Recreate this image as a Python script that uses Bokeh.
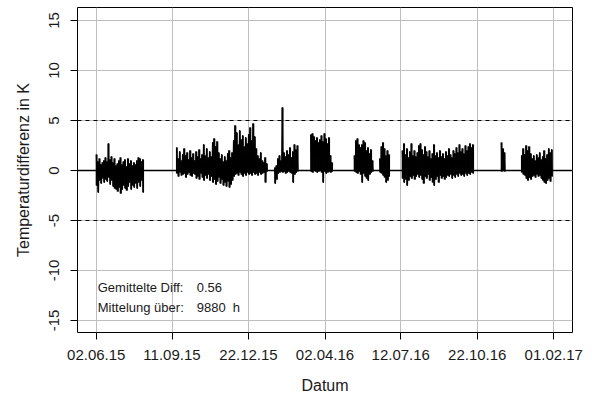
import pandas as pd
from bokeh.plotting import figure
from bokeh.models import Range1d, FixedTicker, Span, Label
from bokeh.embed import file_html
from bokeh.resources import INLINE

# ---- data (hourly record, shown as 2-day high/low envelope) ----
step_days = 2

seg1_start = "2015-06-02"
seg1_hi = [1.6, 0.9, 1.2, 0.6, 0.8, 1.0, 1.3, 0.9, 2.7, 1.1, 1.4, 0.8, 1.2, 0.5, 0.7, 1.0,
           1.3, 0.6, 0.9, 1.1, 0.4, 1.2, 0.7, 1.0, 0.5, 0.8, 0.6, 1.0, 1.3, 1.2, 0.9, 1.1]
seg1_lo = [-1.5, -2.2, -1.0, -1.3, -0.8, -1.2, -0.9, -1.1, -0.7, -1.4, -1.0, -1.6, -1.8, -1.9, -2.1, -1.7,
           -2.3, -1.9, -1.5, -1.8, -2.0, -1.6, -1.2, -1.9, -1.5, -1.7, -1.3, -1.8, -1.2, -1.6, -1.0, -2.2]

seg2_start = "2015-09-17"
seg2_hi = [2.3, 1.2, 1.9, 1.0, 1.6, 2.2, 1.5, 1.8, 1.1, 2.0, 1.3, 1.7, 1.0, 1.9, 1.4, 2.1,
           1.2, 1.6, 2.6, 1.5, 2.2, 1.3, 1.9, 1.4, 2.8, 3.2, 2.4, 2.9, 1.8, 1.2, 1.6, 0.9,
           1.4, 1.0, 1.7, 2.0, 1.3, 1.8, 3.0, 4.5, 3.8, 2.6, 4.0, 3.1, 3.5, 2.4, 3.3, 2.7,
           3.6, 4.3, 3.0, 4.7, 3.4, 2.2, 1.5, 1.2, 1.8, 1.0, 0.8, 1.3, 0.7]
seg2_lo = [-0.3, -0.6, -0.2, -0.5, -0.4, -0.3, -0.7, -0.4, -0.2, -0.5, -0.6, -0.3, -0.4, -0.8, -0.6, -0.9,
           -0.3, -0.7, -1.0, -0.5, -0.8, -0.4, -1.0, -0.6, -1.2, -0.9, -1.4, -1.1, -0.7, -1.3, -0.9, -1.5,
           -1.2, -1.6, -1.1, -1.7, -1.4, -1.0, -0.6, -0.4, -0.3, -0.5, -0.2, -0.4, -0.6, -0.3, -0.5, -0.2,
           -0.4, -0.3, -0.5, -0.2, -0.4, -0.3, -0.5, -0.2, -0.4, -0.3, -0.2, -1.2, -0.1]

seg3_start = "2016-01-26"
seg3_hi = [0.3, 0.5, 1.2, 1.5, 1.0, 6.3, 1.8, 1.4, 2.0, 1.6, 2.3, 1.3, 1.9, 2.6, 2.1, 2.5]
seg3_lo = [-1.3, -0.9, -0.3, -0.2, -0.1, -0.2, -0.1, -0.3, -0.2, -0.1, -0.2, -0.3, -1.2, -0.4, -0.2, -0.1]

seg4_start = "2016-03-14"
seg4_hi = [3.6, 3.7, 3.4, 3.0, 3.3, 2.8, 3.1, 3.5, 2.9, 3.7, 3.2, 2.7, 3.3, 1.5, 0.8]
seg4_lo = [-0.1, -0.2, 0.0, -0.1, -0.2, -0.1, 0.0, -0.2, -1.2, -0.1, -0.3, -0.2, -0.1, -0.2, -0.1]

seg5_start = "2016-05-11"
seg5_hi = [1.5, 3.0, 3.2, 2.6, 2.3, 2.6, 3.0, 2.8, 2.0, 2.3, 1.7, 2.1, 1.0]
seg5_lo = [-0.1, -0.2, -0.3, -0.1, -0.4, -1.2, -0.3, -0.6, -0.8, -1.0, -0.4, -0.2, -0.1]

seg6_start = "2016-06-14"
seg6_hi = [1.2, 2.4, 2.8, 2.2, 1.5, 2.0, 1.6]
seg6_lo = [-0.2, -0.3, -0.5, -0.7, -1.2, -1.0, -0.6]

seg7_start = "2016-07-14"
seg7_hi = [2.0, 2.7, 1.6, 2.2, 1.3, 1.9, 2.7, 1.5, 2.0, 1.4, 1.8, 2.5, 2.7, 2.1, 1.6, 2.4,
           1.9, 1.4, 2.0, 1.2, 1.7, 2.6, 1.5, 1.8, 1.3, 2.0, 1.4, 1.7, 1.2, 1.9, 1.5, 2.2,
           1.6, 1.3, 2.0, 1.7, 2.3, 1.8, 2.6, 1.9, 2.2, 1.7, 2.5, 2.0, 2.4, 2.7, 2.3, 2.6]
seg7_lo = [-0.8, -1.2, -0.9, -1.5, -1.0, -0.6, -0.8, -0.5, -0.9, -0.6, -0.4, -0.7, -0.5, -0.9, -1.3, -0.6,
           -0.8, -0.4, -1.0, -0.7, -1.2, -1.5, -0.9, -0.6, -1.2, -0.5, -0.8, -0.6, -0.9, -0.7, -0.5, -0.6,
           -0.4, -0.8, -0.5, -0.7, -0.4, -0.6, -0.3, -0.5, -0.4, -0.6, -0.3, -0.5, -0.3, -0.4, -0.2, -0.3]

seg8_start = "2016-11-23"
seg8_hi = [2.8, 2.2, 1.8]
seg8_lo = [-0.1, 0.0, -0.1]

seg9_start = "2016-12-20"
seg9_hi = [1.5, 2.2, 1.6, 2.5, 2.0, 2.4, 1.7, 1.2, 1.5, 1.0, 1.6, 1.3, 1.8, 1.1, 1.4, 2.0,
           1.2, 1.6, 2.2, 1.8, 2.1]
seg9_lo = [-0.2, -0.4, -0.5, -0.8, -1.0, -0.7, -0.9, -0.6, -0.5, -0.7, -0.4, -0.6, -0.5, -0.8, -1.0, -1.2,
           -1.3, -1.0, -0.8, -1.1, -0.6]

x_tick_dates = ["2015-06-02", "2015-09-11", "2015-12-22", "2016-04-02",
                "2016-07-12", "2016-10-22", "2017-02-01"]
x_tick_labels = ["02.06.15", "11.09.15", "22.12.15", "02.04.16",
                 "12.07.16", "22.10.16", "01.02.17"]
y_ticks = [-15, -10, -5, 0, 5, 10, 15]
y_tick_labels = ["-15", "-10", "-5", "0", "5", "10", "15"]
ref_levels = [-5, 5]
mean_diff = "0.56"
avg_hours = "9880"

# ---- build ----
DAY = 86400000


def ms(d):
    return int(pd.Timestamp(d).value // 10**6)


segments = [
    (seg1_start, seg1_hi, seg1_lo), (seg2_start, seg2_hi, seg2_lo),
    (seg3_start, seg3_hi, seg3_lo), (seg4_start, seg4_hi, seg4_lo),
    (seg5_start, seg5_hi, seg5_lo), (seg6_start, seg6_hi, seg6_lo),
    (seg7_start, seg7_hi, seg7_lo), (seg8_start, seg8_hi, seg8_lo),
    (seg9_start, seg9_hi, seg9_lo),
]

xs, ys = [], []
bx, btop, bbot = [], [], []
for start, hi, lo in segments:
    s = ms(start)
    x, y = [], []
    for i, (h, l) in enumerate(zip(hi, lo)):
        x += [s + i * step_days * DAY, s + (i * step_days + 1) * DAY]
        y += [h, l]
        bx.append(s + (i * step_days + 0.5) * DAY)
        btop.append(h)
        bbot.append(l)
    xs.append(x)
    ys.append(y)

FONT = "Liberation Sans"
TXT = "#1a1a1a"

p = figure(frame_width=495, frame_height=325,
           min_border_left=77, min_border_right=20, min_border_top=7, min_border_bottom=62,
           output_backend="svg", toolbar_location=None,
           x_range=Range1d(ms("2015-05-08"), ms("2017-02-26")),
           y_range=Range1d(-16.2, 16.3))

p.background_fill_color = "white"
p.border_fill_color = "white"
p.outline_line_color = "black"
p.outline_line_width = 1

tick_ms = [ms(d) for d in x_tick_dates]
p.xaxis.ticker = FixedTicker(ticks=tick_ms)
p.xaxis.major_label_overrides = {t: lab for t, lab in zip(tick_ms, x_tick_labels)}
p.yaxis.ticker = FixedTicker(ticks=y_ticks)
p.yaxis.major_label_overrides = {t: lab for t, lab in zip(y_ticks, y_tick_labels)}
p.yaxis.major_label_orientation = "vertical"

for ax in (p.xaxis, p.yaxis):
    ax.axis_line_color = None
    ax.major_tick_out = 7
    ax.major_tick_in = 0
    ax.minor_tick_line_color = None
    ax.major_tick_line_color = "black"
    ax.major_label_text_font = FONT
    ax.major_label_text_font_size = "15px"
    ax.major_label_text_color = TXT
    ax.axis_label_text_font = FONT
    ax.axis_label_text_font_size = "16px"
    ax.axis_label_text_font_style = "normal"
    ax.axis_label_text_color = TXT

p.xaxis.axis_label = "Datum"
p.xaxis.major_label_standoff = 10
p.xaxis.axis_label_standoff = 14
p.yaxis.axis_label = "Temperaturdifferenz in K"
p.yaxis.major_label_standoff = 12
p.yaxis.axis_label_standoff = 14

p.grid.grid_line_color = "#bebebe"
p.grid.grid_line_width = 1

for lv in ref_levels:
    p.add_layout(Span(location=lv, dimension="width", line_color="black",
                      line_width=1, line_dash="4 4"))
p.add_layout(Span(location=0, dimension="width", line_color="black", line_width=1.3))

p.vbar(x=bx, width=step_days * DAY * 1.25, top=btop, bottom=bbot,
       fill_color="black", line_color=None)
p.multi_line(xs=xs, ys=ys, line_color="black", line_width=1)

lab_kw = dict(text_font=FONT, text_font_size="13px", text_color=TXT, text_baseline="middle")
p.add_layout(Label(x=ms("2015-06-04"), y=-11.67, text="Gemittelte Diff:", **lab_kw))
p.add_layout(Label(x=ms("2015-10-14"), y=-11.67, text=mean_diff, **lab_kw))
p.add_layout(Label(x=ms("2015-06-04"), y=-13.67, text="Mittelung über:", **lab_kw))
p.add_layout(Label(x=ms("2015-10-14"), y=-13.67, text=avg_hours, **lab_kw))
p.add_layout(Label(x=ms("2015-12-01"), y=-13.67, text="h", **lab_kw))

open("out.html", "w").write(file_html(p, INLINE))
